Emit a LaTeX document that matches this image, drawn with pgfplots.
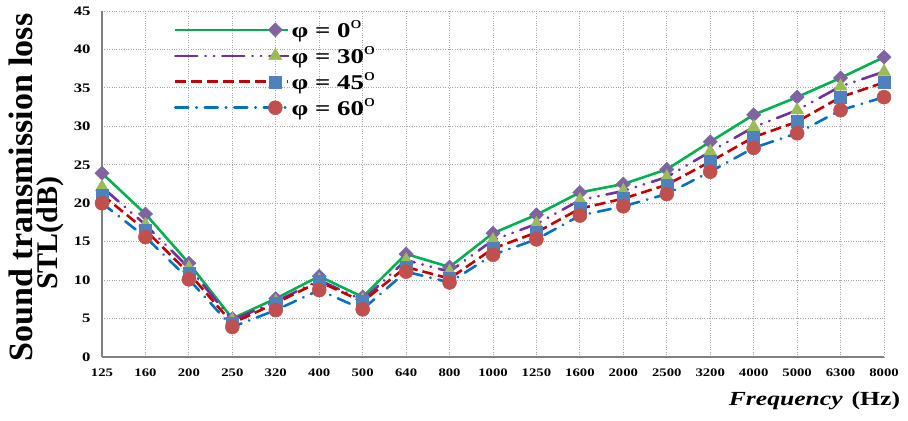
\documentclass[border=0pt]{standalone}
\usepackage{fontspec}
\setmainfont[FakeStretch=1.28]{Liberation Serif}
\newfontfamily\labfont{Liberation Serif}
\usepackage{pgfplots}
\pgfplotsset{compat=1.18}
\definecolor{lgreen}{HTML}{00B050}
\definecolor{lpurple}{HTML}{7030A0}
\definecolor{lred}{HTML}{C00000}
\definecolor{lblue}{HTML}{0070C0}
\definecolor{mdia}{HTML}{8064A2}
\definecolor{mtri}{HTML}{9BBB59}
\definecolor{msq}{HTML}{4F81BD}
\definecolor{mcir}{HTML}{C0504D}
\newcommand\dg{\raisebox{0.45em}{\fontsize{17}{17}\selectfont\mdseries o}}
\pgfplotstableread{
x p0 p30 p45 p60
0 23.9 22.1 21.1 20.0
1 18.6 17.2 16.5 15.6
2 12.2 11.6 10.9 10.1
3 5.0 4.8 4.4 3.9
4 7.6 7.2 7.0 6.1
5 10.5 10.0 9.8 8.7
6 7.8 7.4 7.2 6.2
7 13.4 12.6 11.7 11.1
8 11.7 11.1 10.2 9.7
9 16.1 15.2 14.1 13.3
10 18.5 17.3 16.2 15.3
11 21.4 20.4 19.3 18.4
12 22.5 21.6 20.6 19.6
13 24.4 23.4 22.4 21.2
14 28.0 26.7 25.4 24.1
15 31.5 29.9 28.6 27.2
16 33.8 32.1 30.6 29.1
17 36.3 35.2 33.8 32.1
18 39.0 37.1 35.7 33.8
}\data
\begin{document}
\begin{tikzpicture}
\begin{axis}[
  scale only axis, width=782pt, height=346pt,
  xmin=0, xmax=18, ymin=0, ymax=45,
  clip=false,
  axis x line*=bottom, axis y line*=left,
  axis line style={draw=gray, line width=2.6pt},
  xtick={0,...,18},
  xticklabels={125,160,200,250,320,400,500,640,800,1000,1250,1600,2000,2500,3200,4000,5000,6300,8000},
  ytick={0,5,...,45},
  major tick length=0pt,
  grid=major,
  major grid style={draw=gray!70, dotted, line width=0.9pt},
  /pgf/number format/assume math mode=true,
  xticklabel style={font=\fontsize{11.5}{13}\selectfont\bfseries, yshift=-8pt},
  yticklabel style={font=\fontsize{13}{15}\selectfont\bfseries, xshift=-8pt},
  legend style={at={(rel axis cs:0.088,0.985)}, anchor=north west, draw=none, fill=none,
    font=\fontsize{21}{22}\selectfont\bfseries, row sep=3pt,
    nodes={inner sep=2pt}},
  legend cell align=left,
  legend image code/.code={\draw[#1, mark repeat=5, mark phase=2] plot coordinates {(0pt,0pt) (100pt,0pt) (113pt,0pt)};},
  every axis plot/.append style={line width=2.6pt},
]
\addplot[lgreen, solid, mark=diamond*, mark size=7pt,
  mark options={solid, xscale=1.35, fill=mdia, draw=mdia, line width=0.5pt}] table[x=x,y=p0]{\data};
\addlegendentry{φ = 0\dg}
\addplot[lpurple, line cap=round, dash pattern=on 22pt off 8pt on 0.5pt off 8pt on 0.5pt off 8pt, mark=triangle*, mark size=7.5pt,
  mark options={solid, fill=mtri, draw=mtri, line width=0.5pt}] table[x=x,y=p30]{\data};
\addlegendentry{φ = 30\dg}
\addplot[lred, dash pattern=on 11pt off 5pt, mark=square*, mark size=6pt,
  mark options={solid, fill=msq, draw=msq, line width=0.5pt}] table[x=x,y=p45]{\data};
\addlegendentry{φ = 45\dg}
\addplot[lblue, line cap=round, dash pattern=on 13pt off 8pt on 0.5pt off 8pt, mark=*, mark size=7pt,
  mark options={solid, fill=mcir, draw=mcir, line width=0.5pt}] table[x=x,y=p60]{\data};
\addlegendentry{φ = 60\dg}
\node[rotate=90, font=\labfont\fontsize{34}{36}\selectfont\bfseries] at (rel axis cs:-0.1036,0.49) {Sound transmission loss};
\node[rotate=90, font=\labfont\fontsize{30}{32}\selectfont\bfseries] at (rel axis cs:-0.066,0.358) {STL(dB)};
\node[anchor=east, font=\fontsize{20}{22}\selectfont\bfseries] at (rel axis cs:1.025,-0.126) {\textit{Frequency}\hspace{9pt}(Hz)};
\coordinate (BL) at (rel axis cs:-0.13043,-0.18497);
\coordinate (TR) at (rel axis cs:1.03069,1.03179);
\end{axis}
\pgfresetboundingbox
\path[use as bounding box] (BL) rectangle (TR);
\end{tikzpicture}
\end{document}
